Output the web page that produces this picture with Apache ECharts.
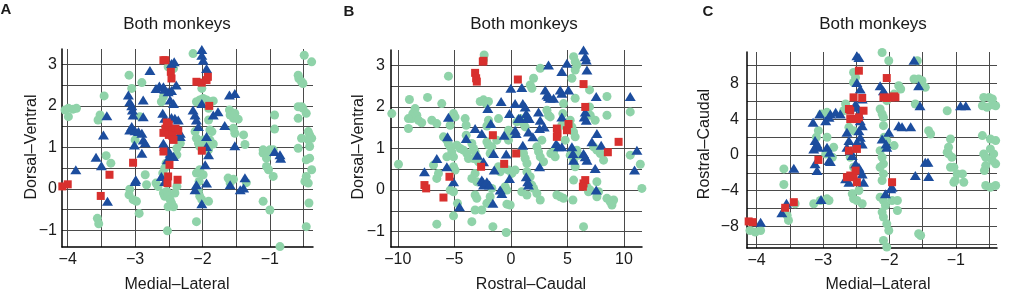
<!DOCTYPE html>
<html>
<head>
<meta charset="utf-8">
<script src="https://cdn.jsdelivr.net/npm/echarts@6/dist/echarts.min.js"></script>
<style>
  html, body { margin: 0; padding: 0; background: #fff; }
  #chart { width: 1028px; height: 296px; }
</style>
</head>
<body>
<div id="chart"></div>
<script>
// Panel A: Medial-Lateral (x) vs Dorsal-Ventral (y)
var aGreen = [[-4.09,1.94],[-4.04,1.90],[-3.99,1.94],[-3.92,1.92],[-3.87,1.94],[-3.99,1.74],
  [-3.52,1.78],[-3.55,1.66],[-3.46,2.24],[-3.43,0.80],[-3.36,0.62],[-3.56,-0.71],[-3.54,-0.84],
  [-3.09,2.74],[-3.05,2.42],[-3.09,-0.14],[-3.08,-0.01],[-3.03,-0.26],[-2.94,-0.59],[-2.98,-0.30],
  [-2.93,1.74],[-2.90,2.56],[-2.85,0.34],[-2.83,0.10],[-3.0,1.18],
  [-2.69,0.14],[-2.66,0.06],[-2.59,0.38],[-2.56,0.50],[-2.54,0.62],
  [-2.58,-0.10],[-2.56,-0.18],[-2.53,-0.06],[-2.51,-0.18],[-2.48,-0.26],[-2.46,-0.34],[-2.43,-0.43],[-2.41,-0.10],[-2.38,0.06],[-2.51,-0.43],
  [-2.52,-1.01],[-2.61,2.10],[-2.58,2.22],[-2.43,2.90],[-2.51,2.94],
  [-2.38,0.82],[-2.38,0.98],[-2.36,1.18],[-2.33,1.10],[-2.38,1.26],
  [-2.09,2.10],[-2.04,2.14],[-1.99,2.18],[-1.94,2.14],[-1.89,2.10],[-1.84,2.12],[-1.91,1.94],
  [-2.11,1.38],[-2.09,1.22],[-2.06,1.10],[-2.04,1.02],[-1.99,1.18],[-1.94,1.10],[-1.89,1.18],[-1.84,1.08],[-1.91,0.94],
  [-2.04,0.46],[-1.99,0.34],[-2.05,0.18],[-2.09,0.38],[-2.06,-0.06],[-2.04,-0.18],[-2.01,-0.26],[-1.91,-0.30],
  [-2.09,-0.79],[-2.14,3.26],[-2.01,2.42],[-1.91,1.66],[-1.89,1.42],[-1.86,1.38],
  [-1.60,1.90],[-1.59,1.78],[-1.54,1.70],[-1.52,1.82],[-1.47,1.68],[-1.54,1.46],[-1.52,1.34],[-1.39,1.30],[-1.37,1.07],
  [-1.62,0.26],[-1.54,0.23],[-1.59,0.14],[-1.35,0.15],
  [-1.10,-0.30],[-1.0,-0.51],[-0.85,-1.39],[-0.93,1.44],[-0.93,1.78],
  [-1.10,0.94],[-1.05,0.86],[-1.0,0.94],[-0.97,0.90],[-1.10,0.86],[-1.05,0.74],[-0.95,0.94],
  [-1.05,0.54],[-1.02,0.46],[-0.95,0.30],
  [-0.58,2.74],[-0.57,2.66],[-0.53,2.58],[-0.51,2.54],[-0.49,3.22],[-0.38,3.06],
  [-0.58,1.98],[-0.53,1.98],[-0.51,1.94],[-0.58,1.70],[-0.46,1.82],
  [-0.43,1.38],[-0.41,1.30],[-0.38,1.22],[-0.41,1.02],[-0.43,1.18],[-0.53,1.22],[-0.58,0.98],
  [-0.41,0.74],[-0.46,0.70],[-0.38,0.46],[-0.46,0.30],[-0.48,0.18],[-0.43,0.14],
  [-0.42,-0.34],[-0.46,-0.91]];
var aBlue = [[-3.88,0.46],[-3.58,0.76],[-3.50,0.56],[-3.47,1.30],[-3.42,1.76],[-3.41,-0.30],
  [-3.10,2.26],[-3.08,2.10],[-3.05,2.0],[-3.04,1.90],[-3.03,1.78],[-3.05,1.50],[-3.08,1.42],
  [-3.0,1.40],[-3.01,1.06],[-2.99,0.22],[-3.0,0.18],
  [-2.95,1.38],[-2.9,1.34],[-2.88,1.18],[-2.85,1.11],[-2.88,1.74],[-2.88,2.14],[-2.78,2.85],[-2.9,0.86],
  [-2.69,2.42],[-2.64,2.48],[-2.58,2.46],[-2.56,2.40],[-2.51,2.34],[-2.46,2.37],[-2.39,2.50],[-2.46,3.02],[-2.42,3.06],[-2.48,2.14],[-2.43,2.06],
  [-2.59,1.82],[-2.56,1.70],[-2.53,1.58],[-2.46,1.72],[-2.41,1.70],[-2.36,1.66],[-2.33,1.34],[-2.33,1.26],
  [-2.58,1.10],[-2.56,1.02],[-2.53,0.94],[-2.48,0.86],[-2.52,0.70],[-2.48,0.78],[-2.43,0.78],
  [-2.61,0.30],[-2.56,0.18],
  [-2.11,-0.02],[-2.09,0.10],[-2.14,1.90],[-2.11,1.78],[-2.09,1.66],[-2.06,1.50],
  [-2.01,3.36],[-2.01,3.22],[-1.99,3.10],[-1.94,2.90],[-2.01,2.06],
  [-1.94,1.26],[-1.94,1.02],[-1.91,0.82],[-1.96,0.58],[-1.94,0.14],[-2.01,-0.36],
  [-1.84,1.78],[-1.77,1.86],[-1.67,1.53],[-1.60,2.26],[-1.52,2.30],[-1.52,1.04],
  [-1.59,0.10],[-1.44,-0.02],[-1.39,0.02],[-1.37,0.27],
  [-0.93,0.90],[-0.85,0.82],[-0.84,0.74]];
var aRed = [[-4.08,0.06],[-4.0,0.11],[-3.51,-0.17],[-3.38,0.34],[-3.03,0.63],[-2.58,3.10],[-2.55,3.10],[-2.47,2.82],[-2.46,2.66],
  [-2.55,1.45],[-2.5,1.55],[-2.45,1.40],[-2.40,1.45],[-2.36,1.40],[-2.58,1.35],[-2.5,1.30],[-2.45,1.28],[-2.53,1.6],
  [-2.43,1.18],[-2.58,0.90],[-2.49,0.58],[-2.51,0.30],[-2.52,0.14],[-2.37,0.22],
  [-2.09,2.58],[-2.01,2.56],[-1.94,2.62],[-1.92,2.70],[-1.90,2.0],[-2.01,0.92]];

// Panel B: Rostral-Caudal (x) vs Dorsal-Ventral (y)
var bGreen = [[-10.53,1.84],[-10.62,1.40],[-10.62,1.16],[-9.94,0.62],[-9.06,1.48],[-8.97,2.18],[-8.47,1.96],[-8.67,1.84],[-8.32,1.80],[-8.76,1.72],[-8.17,1.68],[-7.88,1.62],[-9.06,1.72],
  [-7.37,2.23],[-6.99,1.68],[-6.55,1.60],[-6.11,2.08],[-6.84,0.60],[-6.55,0.28],[-6.40,0.40],[-6.55,-0.82],
  [-5.52,2.74],[-5.37,1.56],[-5.07,1.84],[-4.93,1.76],
  [-5.96,1.28],[-5.66,1.20],[-5.52,1.11],[-5.37,1.04],[-5.22,0.92],[-5.07,0.80],[-5.66,0.80],
  [-4.78,1.08],[-4.48,1.00],[-4.19,0.96],[-3.89,0.88],[-3.75,0.76],
  [-5.07,0.56],[-4.93,0.48],[-5.37,0.0],[-5.07,-0.04],[-4.72,-0.32],[-5.07,-0.62],
  [-4.04,1.72],[-3.95,1.56],[-3.95,1.32],
  [-3.45,1.12],[-3.30,1.00],[-3.16,0.92],[-3.01,0.80],[-2.86,0.68],[-3.30,0.76],
  [-3.45,0.28],[-3.16,0.40],[-3.01,0.20],
  [-3.45,-0.76],[-3.16,-0.48],[-2.57,-0.48],[-3.16,-0.12],[-3.01,-0.20],[-2.95,-1.39],
  [-2.71,2.13],[-2.42,2.17],[-2.18,2.08],[-1.98,2.13],[-2.42,3.13],[-2.36,3.25],
  [-1.98,1.68],[-2.12,1.54],[-2.12,1.16],[-1.98,1.08],[-1.68,1.04],[-1.83,0.88],
  [-1.68,0.04],[-1.83,-0.16],[-2.12,-0.32],[-1.59,-0.88],[-1.24,1.20],[-1.09,1.72],
  [-1.09,0.56],[-0.94,0.44],[-0.65,0.52],[-0.21,0.48],[0.09,0.40],[0.38,0.48],
  [-0.50,0.08],[-0.35,0.0],[-0.35,-0.34],[-0.06,-0.36],[-0.41,-1.02],
  [-0.21,1.44],[-0.35,1.28],[-0.21,1.20],[0.24,1.36],
  [0.53,1.64],[0.83,1.72],[1.12,1.60],[1.27,1.52],
  [0.97,0.96],[1.12,0.88],[1.27,0.76],[1.42,0.64],
  [0.97,-0.04],[1.42,-0.12],[1.86,0.12],[2.01,0.04],[2.30,-0.08],[2.60,-0.24],
  [1.71,2.53],[1.86,2.45],[2.01,2.69],[2.60,2.93],[1.42,0.44],[1.71,0.32],
  [2.30,1.04],[2.45,0.92],[2.60,0.80],[2.89,0.68],[2.74,1.20],
  [3.19,1.92],[3.33,1.80],[3.48,1.76],[3.54,0.88],[3.78,0.92],[3.92,0.80],
  [4.07,-0.12],[4.37,-0.16],[4.66,-0.20],[4.66,2.08],[4.60,1.84],[4.51,1.56],[4.81,1.20],
  [5.25,1.68],[5.40,1.52],[5.55,1.40],[5.69,1.28],
  [5.25,0.84],[5.55,0.68],[5.69,0.56],[5.84,0.96],[5.99,0.84],[5.55,0.24],[5.49,-0.24],
  [5.55,3.21],[5.69,3.09],[5.84,3.01],[5.69,2.89],[5.40,2.69],[5.69,2.21],
  [6.43,-0.88],[6.73,0.08],[6.87,-0.04],[7.02,0.0],
  [6.96,2.41],[6.96,2.0],[7.02,1.80],[7.46,1.68],
  [7.32,1.04],[7.61,0.96],[7.91,0.88],[8.20,0.72],[7.61,0.20],[7.61,-0.16],[7.76,-0.04],
  [8.50,2.25],[8.50,1.80],[8.50,-0.20],[8.79,-0.28],[9.09,-0.24],[8.94,-0.36],
  [10.56,1.88],[10.56,0.84],[11.45,0.62],[11.59,0.04]];
var bBlue = [[-7.64,0.44],[-6.55,0.76],[-5.66,0.56],[-5.52,1.75],[-5.60,1.28],[-5.07,0.20],[-4.54,-0.40],[-3.95,1.24],[-3.16,1.48],[-2.95,0.84],
  [-2.57,1.36],[-2.57,0.24],[-2.48,0.20],[-2.42,0.12],[-2.12,0.20],[-2.42,0.68],[-1.89,0.12],[-2.04,1.96],[-1.77,1.60],[-1.53,0.88],
  [-1.47,0.48],[-1.59,-0.32],[-0.86,2.13],[-0.94,0.0],[-0.80,-0.08],[-0.59,1.32],[-0.41,0.87],[-0.12,1.84],[0,2.45],[-0.12,0.28],
  [0.38,1.44],[0.47,1.36],[0.38,2.08],[0.68,1.72],[0.83,1.72],[0.97,2.47],[1.06,2.08],[1.27,2.0],[1.06,1.08],[1.36,1.84],
  [1.47,1.76],[1.62,1.72],[1.36,0.32],[1.50,0.20],[1.56,0.12],[1.56,1.40],[1.95,1.28],[2.45,1.88],[2.60,1.68],[2.54,0.56],
  [2.54,1.48],[2.95,1.52],[3.04,2.41],[3.19,2.29],[3.33,2.25],[3.48,2.21],[3.78,2.21],[3.33,3.01],[4.01,1.12],[4.22,1.04],
  [4.51,1.04],[4.37,2.41],[4.51,2.33],[4.51,2.85],[4.51,1.76],[4.96,3.05],[5.10,2.41],[5.40,1.04],[5.49,0.88],[5.55,0.72],
  [6.43,3.37],[6.58,3.21],[6.67,3.13],[6.73,2.89],[6.58,1.88],[6.49,1.76],[6.67,1.68],[6.43,0.88],[6.58,0.80],[6.73,0.72],
  [7.17,1.16],[7.61,1.36],[7.99,1.08],[7.55,2.25],[7.46,0.52],[7.55,0.0],[10.56,2.25],[10.94,0.48],[11.15,0.96]];
var bRed = [[-7.64,0.12],[-7.49,0.04],[-5.96,-0.18],[-5.43,0.32],[-3.16,2.82],[-3.07,2.69],[-3.01,2.61],[-2.48,3.09],[-2.42,3.11],
  [-2.63,0.56],[-1.59,1.32],[-0.59,0.63],[0.47,0.88],[0.62,2.66],[4.07,1.48],[4.13,1.36],[4.07,1.28],[4.96,1.44],[5.10,1.59],
  [6.43,2.55],[6.58,2.0],[6.43,0.16],[6.58,0.24],[6.37,0.08],[8.58,0.91],[9.53,1.16]];

// Panel C: Medial-Lateral (x) vs Rostral-Caudal (y)
var cGreen = [[-4.10,-8.44],[-4.02,-8.62],[-3.94,-8.44],[-3.59,-1.56],[-3.59,-3.31],[-3.54,-6.77],[-3.52,-7.32],[-3.42,-5.46],
  [-3.14,-5.46],[-3.04,-5.09],[-2.94,-4.91],[-2.91,-5.09],
  [-3.02,4.57],[-2.94,4.76],[-3.07,2.71],[-3.10,1.97],[-2.94,1.97],[-2.96,0.11],[-2.86,-0.26],[-2.84,0.86],
  [-2.69,4.94],[-2.66,5.69],[-2.54,9.22],[-2.51,8.66],[-2.54,8.10],[-2.61,3.09],[-2.54,2.71],
  [-2.59,-0.26],[-2.54,-1.38],[-2.56,-4.35],[-2.54,-4.91],[-2.49,-5.09],[-2.41,-5.46],[-2.46,-3.98],
  [-2.11,11.45],[-2.01,10.52],[-2.14,5.13],[-2.11,4.57],[-2.09,4.20],[-2.04,6.06],
  [-2.09,3.27],[-2.08,1.97],[-2.04,1.60],
  [-2.14,0.48],[-2.11,-0.26],[-2.09,-1.00],[-2.14,-1.38],[-2.09,-2.12],[-2.11,-2.86],
  [-2.14,-4.72],[-2.09,-5.09],[-2.06,-5.65],[-2.11,-6.39],[-2.09,-6.95],[-2.04,-7.70],[-2.01,-8.44],[-2.09,-9.55],[-2.04,-10.3],[-1.93,-10.48],[-1.86,-10.48],
  [-1.96,-5.09],[-1.88,-5.09],[-1.88,-6.21],[-1.93,1.04],
  [-1.86,7.73],[-1.83,7.36],[-1.93,6.80],
  [-1.63,8.48],[-1.56,8.48],[-1.51,8.29],[-1.46,7.55],[-1.58,10.52],[-1.61,5.69],
  [-1.56,-8.81],[-1.53,-9.0],[-1.41,2.71],[-1.38,2.34],[-1.13,4.94],[-1.08,1.78],
  [-1.13,0.30],[-1.11,0.11],[-1.06,-0.26],[-1.08,-1.38],[-1.03,-1.38],[-0.98,-2.12],[-0.90,-2.12],[-1.01,-2.86],[-1.03,-3.05],[-0.88,-3.05],[-1.11,0.86],
  [-0.58,6.43],[-0.50,6.43],[-0.45,6.25],[-0.60,5.50],[-0.53,5.32],[-0.45,5.61],[-0.40,5.50],
  [-0.60,2.16],[-0.48,1.78],[-0.40,1.60],[-0.48,0.67],[-0.43,0.11],[-0.58,0.11],[-0.55,-0.26],[-0.45,-0.63],[-0.40,-1.00],[-0.55,-1.19],[-0.57,-1.75],
  [-0.55,-3.42],[-0.48,-3.61],[-0.40,-3.42]];
var cBlue = [[-3.94,-7.51],[-3.62,-6.47],[-3.55,-5.39],[-3.44,-1.49],[-3.15,3.64],[-3.12,1.60],[-3.09,1.23],[-3.07,0.86],[-3.14,0.67],[-3.12,-1.00],[-3.09,-1.75],[-3.05,4.57],[-3.03,-4.98],
  [-2.96,3.83],[-2.91,4.20],[-2.89,4.57],[-2.81,4.76],[-2.74,4.57],
  [-2.94,0.86],[-2.90,0.30],[-2.91,-0.63],[-2.89,-0.74],
  [-2.64,2.53],[-2.61,1.60],[-2.64,0.86],[-2.59,0.48],[-2.56,-0.07],
  [-2.49,11.08],[-2.46,10.89],[-2.49,8.10],[-2.44,7.36],[-2.41,6.25],
  [-2.51,5.69],[-2.49,5.32],[-2.46,4.57],[-2.44,3.83],[-2.41,3.27],[-2.46,2.71],[-2.44,1.97],[-2.49,1.41],[-2.41,1.23],
  [-2.51,-1.00],[-2.46,-1.38],[-2.44,-1.75],[-2.41,-2.12],[-2.39,-3.05],[-2.66,-2.67],[-2.61,-3.05],
  [-2.14,7.73],[-2.09,7.17],[-2.06,6.80],[-2.11,1.78],[-2.05,1.23],[-2.04,0.86],[-2.01,2.53],
  [-2.06,-4.35],[-1.98,-3.79],[-1.96,-3.61],
  [-1.86,3.27],[-1.81,3.16],[-1.68,3.16],[-1.63,10.59],[-1.61,-2.30],[-1.56,7.73],[-1.54,5.50],[-1.46,-0.82],[-1.42,-0.82],[-1.41,-2.42],[-0.93,5.50],[-0.85,5.50]];
var cRed = [[-4.12,-7.43],[-4.06,-7.51],[-3.57,-5.91],[-3.44,-5.28],[-3.07,-0.56],[-2.61,5.13],[-2.59,4.94],[-2.54,6.43],[-2.41,6.36],[-2.39,4.94],
  [-2.59,4.01],[-2.54,4.01],[-2.49,4.01],[-2.46,4.20],[-2.46,9.41],[-2.61,0.48],[-2.49,0.67],[-2.64,-2.49],[-2.59,-2.30],[-2.54,-2.49],
  [-2.51,-1.75],[-2.49,-3.05],[-2.04,8.59],[-2.09,6.43],[-2.04,6.36],[-1.98,6.43],[-1.93,6.54],[-1.91,6.43],[-1.96,-3.05]];

// tick labels and grid lines
var mlLabels = [-4, -3, -2, -1];
var mlGrid = [-4, -3.5, -3, -2.5, -2, -1.5, -1, -0.5];
var dvLabels = [-1, 0, 1, 2, 3];
var dvGrid = [-1, -0.5, 0, 0.5, 1, 1.5, 2, 2.5, 3];
var rcxLabels = [-10, -5, 0, 5, 10];
var rcyLabels = [-8, -4, 0, 4, 8];
var rcyGrid = [-10, -8, -6, -4, -2, 0, 2, 4, 6, 8, 10];

var GREEN = '#8fd3a9', BLUE = '#1c4d9e', RED = '#d8302e';
var FONT = '"Liberation Sans", Arial, Helvetica, sans-serif';

function minus(v) { return String(v).replace('-', '\u2212'); }

function makeAxis(idx, min, max, labels, grid, margin) {
  return {
    type: 'value', gridIndex: idx, min: min, max: max,
    axisLine: { onZero: false, lineStyle: { color: '#000', width: 1.5 } },
    axisTick: { show: false, customValues: grid },
    axisLabel: { customValues: labels, formatter: minus, color: '#1a1a1a', fontSize: 16, fontFamily: FONT, margin: margin },
    splitLine: { show: true, lineStyle: { color: '#4a4a4a', width: 1 } }
  };
}

function pts(data, idx, shape, size, color) {
  return {
    type: 'scatter', xAxisIndex: idx, yAxisIndex: idx, data: data,
    symbol: shape, symbolSize: size, itemStyle: { color: color, opacity: 1 },
    silent: true, animation: false
  };
}

function txt(x, y, s, size, rot, bold) {
  return {
    type: 'text', x: x, y: y, rotation: rot || 0, silent: true,
    style: { text: s, fill: '#1a1a1a', font: (bold ? 'bold ' : '') + size + 'px ' + FONT, textAlign: 'center', textVerticalAlign: 'middle' }
  };
}

var chart = echarts.init(document.getElementById('chart'), null, { renderer: 'canvas' });
chart.setOption({
  animation: false,
  grid: [
    { left: 62, top: 49, width: 251, height: 198 },
    { left: 391, top: 50, width: 251, height: 197 },
    { left: 747, top: 52, width: 250, height: 196 }
  ],
  xAxis: [
    makeAxis(0, -4.085, -0.36, mlLabels, mlGrid, 5),
    makeAxis(1, -10.6, 11.6, rcxLabels, rcxLabels, 5),
    makeAxis(2, -4.145, -0.38, mlLabels, mlGrid, 5)
  ],
  yAxis: [
    makeAxis(0, -1.4, 3.37, dvLabels, dvGrid, 5),
    makeAxis(1, -1.37, 3.37, dvLabels, dvGrid, 6),
    makeAxis(2, -10.4, 11.5, rcyLabels, rcyGrid, 8)
  ],
  series: [
    pts(aGreen, 0, 'circle', 9, GREEN), pts(aBlue, 0, 'triangle', [11, 9], BLUE), pts(aRed, 0, 'rect', 8, RED),
    pts(bGreen, 1, 'circle', 9, GREEN), pts(bBlue, 1, 'triangle', [11, 9], BLUE), pts(bRed, 1, 'rect', 8, RED),
    pts(cGreen, 2, 'circle', 9, GREEN), pts(cBlue, 2, 'triangle', [11, 9], BLUE), pts(cRed, 2, 'rect', 8, RED)
  ],
  graphic: [
    txt(6, 10, 'A', 15, 0, true), txt(349, 12, 'B', 15, 0, true), txt(708, 12, 'C', 15, 0, true),
    txt(177, 24, 'Both monkeys', 17), txt(524, 24, 'Both monkeys', 17), txt(873, 24, 'Both monkeys', 17),
    txt(177, 285, 'Medial\u2013Lateral', 16), txt(531, 285, 'Rostral\u2013Caudal', 16), txt(878, 285, 'Medial\u2013Lateral', 16),
    txt(32, 147, 'Dorsal\u2013Ventral', 16, Math.PI / 2), txt(359, 147, 'Dorsal\u2013Ventral', 16, Math.PI / 2), txt(705, 144, 'Rostral\u2013Caudal', 16, Math.PI / 2)
  ]
});
</script>
</body>
</html>
